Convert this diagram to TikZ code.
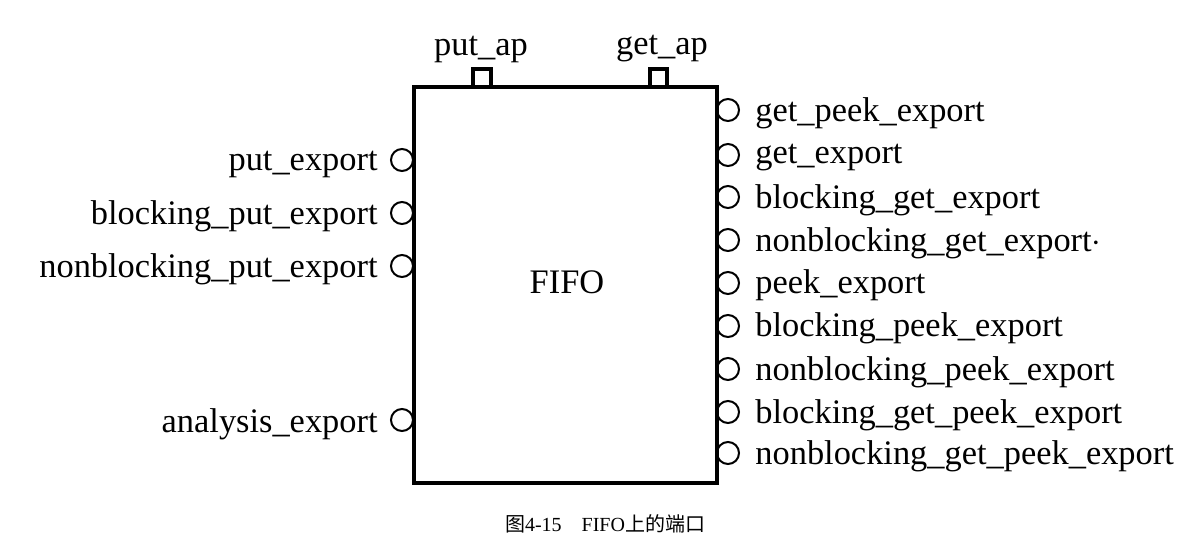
\documentclass[tikz,border=0pt]{standalone}
\usepackage{fontspec}
\setmainfont{Liberation Serif}
\newfontfamily\cjk{Noto Sans CJK SC}
\usepackage{tikz}

\begin{document}
\begin{tikzpicture}[x=0.5pt,y=-0.5pt,
  lbl/.style={font=\fontsize{17.2pt}{20pt}\selectfont, inner sep=0pt},
  portc/.style={draw, line width=1pt, circle, minimum size=11pt, inner sep=0pt},
  portsq/.style={draw, line width=1.6pt, fill=white}]
\useasboundingbox[fill=white] (0,0) rectangle (1197,544);

% top access ports
\draw[portsq] (473,69) rectangle (491,87);
\draw[portsq] (650,69) rectangle (667,87);
\node[lbl] (putap) at (481,49) {put\_ap};
\node[lbl] (getap) at (662,49) {get\_ap};

% left exports
\node[portc] (lp1) at (402,160) {};
\node[portc] (lp2) at (402,213) {};
\node[portc] (lp3) at (402,266) {};
\node[portc] (lp4) at (402,420) {};
\node[lbl, left] (l1) at (378,164) {put\_export};
\node[lbl, left] (l2) at (378,216) {blocking\_put\_export};
\node[lbl, left] (l3) at (378,269) {nonblocking\_put\_export};
\node[lbl, left] (l4) at (378,424) {analysis\_export};

% right exports
\node[portc] (rp1) at (728,110) {};
\node[portc] (rp2) at (728,155) {};
\node[portc] (rp3) at (728,197) {};
\node[portc] (rp4) at (728,240) {};
\node[portc] (rp5) at (728,283) {};
\node[portc] (rp6) at (728,326) {};
\node[portc] (rp7) at (728,369) {};
\node[portc] (rp8) at (728,412) {};
\node[portc] (rp9) at (728,453) {};
\node[lbl, right] (r1) at (755,113) {get\_peek\_export};
\node[lbl, right] (r2) at (755,158) {get\_export};
\node[lbl, right] (r3) at (755,200) {blocking\_get\_export};
\node[lbl, right] (r4) at (755,243) {nonblocking\_get\_export$\cdot$};
\node[lbl, right] (r5) at (755,285) {peek\_export};
\node[lbl, right] (r6) at (755,328) {blocking\_peek\_export};
\node[lbl, right] (r7) at (755,372) {nonblocking\_peek\_export};
\node[lbl, right] (r8) at (755,415) {blocking\_get\_peek\_export};
\node[lbl, right] (r9) at (755,456) {nonblocking\_get\_peek\_export};

% the fifo itself
\draw[line width=1.8pt] (414,87) rectangle (717,483);
\node[lbl] (fifo) at (567,282) {FIFO};

\node[font=\fontsize{10pt}{12pt}\selectfont] (cap) at (605,524) {{\cjk 图}4-15\quad FIFO{\cjk 上的端口}};
\end{tikzpicture}
\end{document}
